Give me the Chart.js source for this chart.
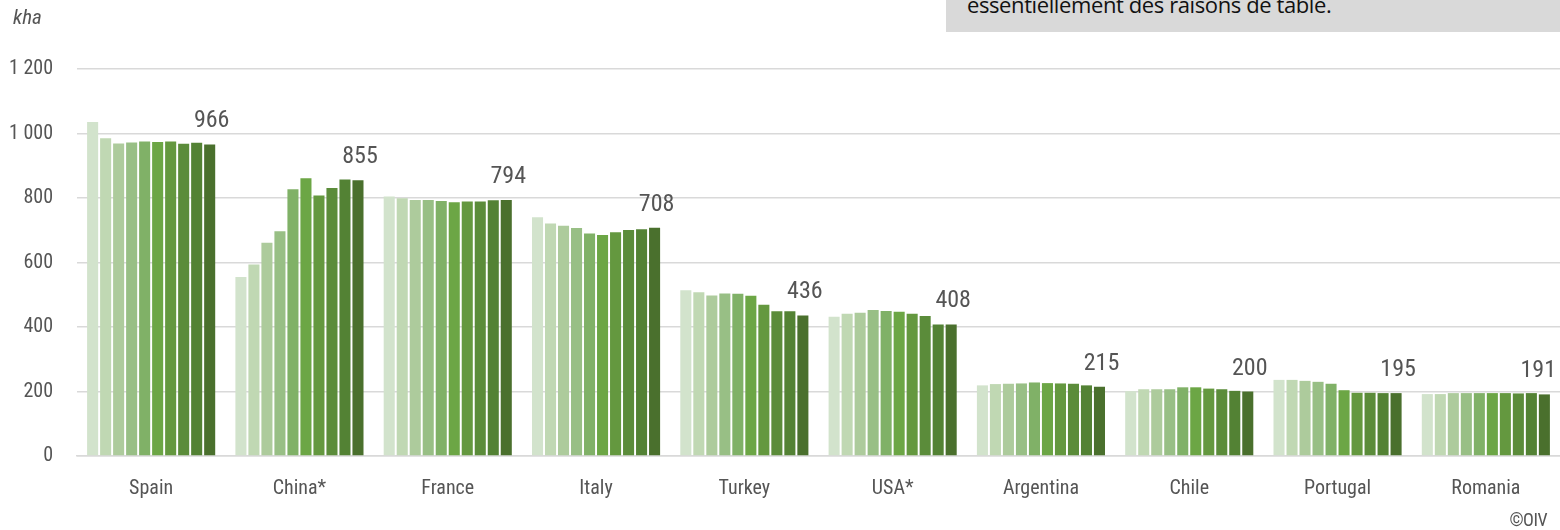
<!DOCTYPE html>
<html>
<head>
<meta charset="utf-8">
<script src="https://cdn.jsdelivr.net/npm/chart.js@4.4.1/dist/chart.umd.min.js"></script>
<style>
    html, body { margin: 0; padding: 0; background: #fff; }
    #wrap { position: relative; width: 1560px; height: 530px; overflow: hidden; }
    #note {
        position: absolute; left: 946px; top: 0; width: 614px; height: 32px;
        background: #d9d9d9; overflow: hidden;
    }
    #note span {
        position: absolute; left: 21px; top: -7px; line-height: 22px; letter-spacing: -0.4px;
        font-family: "Open Sans", sans-serif; font-size: 22px; color: #111; white-space: nowrap;
    }
    #unit {
        position: absolute; left: 13px; top: 7px; line-height: 21px; font-style: italic; font-stretch: condensed;
        font-family: Roboto, sans-serif; font-size: 21px; color: #555;
    }
    #credit {
        position: absolute; right: 13px; top: 511px; line-height: 18px; font-stretch: condensed; letter-spacing: -0.5px;
        font-family: Roboto, sans-serif; font-size: 18px; color: #555;
    }
</style>
</head>
<body>
<div id="wrap">
    <canvas id="chart"></canvas>
    <div id="note"><span>essentiellement des raisons de table.</span></div>
    <div id="unit">kha</div>
    <div id="credit">©OIV</div>
</div>
<script>
// --- Data (kha, vineyard area by year) ---
const countries = ['Spain', 'China*', 'France', 'Italy', 'Turkey', 'USA*', 'Argentina', 'Chile', 'Portugal', 'Romania'];
const years = ['2011', '2012', '2013', '2014', '2015', '2016', '2017', '2018', '2019', '2020'];

const spain     = [1036, 985, 969, 972, 975, 974, 975, 968, 971, 966];
const china     = [555, 594, 661, 697, 827, 861, 808, 831, 857, 855];
const france    = [805, 799, 794, 794, 791, 787, 789, 789, 793, 794];
const italy     = [740, 721, 714, 707, 690, 685, 694, 701, 703, 708];
const turkey    = [514, 508, 498, 504, 503, 497, 469, 449, 449, 436];
const usa       = [432, 441, 444, 453, 450, 447, 441, 434, 408, 408];
const argentina = [219, 223, 224, 225, 228, 226, 225, 224, 219, 215];
const chile     = [201, 207, 207, 207, 213, 213, 209, 207, 202, 200];
const portugal  = [236, 236, 233, 230, 224, 204, 196, 196, 195, 195];
const romania   = [192, 192, 195, 195, 195, 195, 195, 194, 195, 191];

const yTicks = [0, 200, 400, 600, 800, 1000, 1200];

const byCountry = [spain, china, france, italy, turkey, usa, argentina, chile, portugal, romania];
const yearColors = ['#d2e3cc', '#c0d8b3', '#adcb9c', '#98bf85', '#80b167', '#6ca645', '#64983f', '#5b8c3a', '#538234', '#4a702d'];

const family = 'Roboto, sans-serif';
const textColor = '#555';

// one dataset per year, values across countries
const datasets = years.map((year, i) => ({
    label: year,
    data: byCountry.map(series => series[i]),
    backgroundColor: yearColors[i],
    borderWidth: 0,
    categoryPercentage: 0.877,
    barPercentage: 0.85
}));

// value of the last year above each group (kept inside the canvas on the right)
const lastValueLabels = {
    id: 'lastValueLabels',
    afterDatasetsDraw(chart) {
        const ctx = chart.ctx;
        const last = chart.data.datasets.length - 1;
        const meta = chart.getDatasetMeta(last);
        ctx.save();
        ctx.font = '400 condensed 24px ' + family;
        ctx.fillStyle = textColor;
        ctx.textAlign = 'center';
        ctx.textBaseline = 'alphabetic';
        meta.data.forEach((bar, i) => {
            const text = String(chart.data.datasets[last].data[i]);
            const half = ctx.measureText(text).width / 2;
            const x = Math.min(bar.x + 2, chart.width - 4 - half);
            ctx.fillText(text, x, bar.y - 17);
        });
        ctx.restore();
    }
};

new Chart(document.getElementById('chart'), {
    type: 'bar',
    data: { labels: countries, datasets },
    options: {
        responsive: true,
        maintainAspectRatio: false,
        animation: false,
        layout: { padding: { top: 69, right: 0, bottom: 0, left: 0 } },
        plugins: {
            legend: { display: false },
            tooltip: { enabled: false }
        },
        scales: {
            x: {
                grid: { display: false, drawTicks: false },
                border: { display: true, color: '#d9d9d9', width: 1.5 },
                ticks: { color: textColor, font: { family, size: 20, weight: '400 condensed' }, padding: 21, maxRotation: 0 },
                afterFit: (scale) => { scale.height = 74; }
            },
            y: {
                min: 0,
                max: 1200,
                afterBuildTicks: (scale) => { scale.ticks = yTicks.map(v => ({ value: v })); },
                grid: { color: '#d9d9d9', lineWidth: 1.5, drawTicks: false },
                border: { display: false },
                ticks: {
                    color: textColor,
                    font: { family, size: 20, weight: '400 condensed' },
                    padding: 24,
                    callback: (v) => v >= 1000 ? Math.floor(v / 1000) + ' ' + String(v % 1000).padStart(3, '0') : String(v)
                },
                afterFit: (scale) => { scale.width = 77; }
            }
        }
    },
    plugins: [lastValueLabels]
});
</script>
</body>
</html>
